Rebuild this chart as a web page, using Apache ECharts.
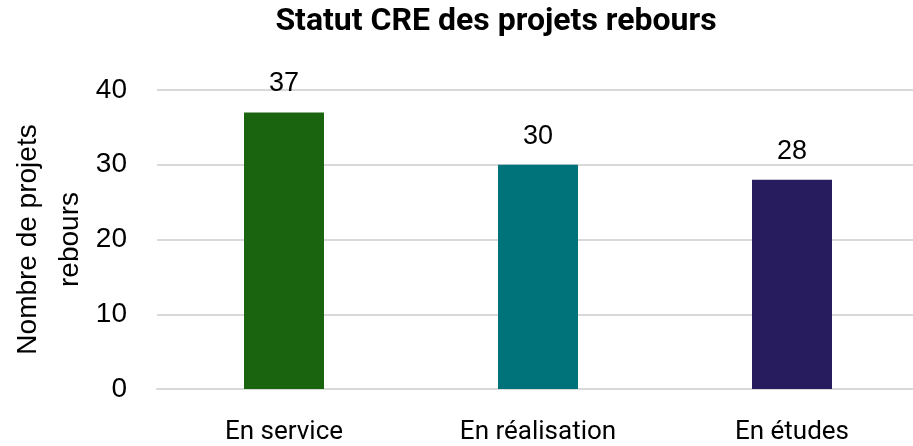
<!DOCTYPE html>
<html>
<head>
<meta charset="utf-8">
<script src="https://cdn.jsdelivr.net/npm/echarts@6/dist/echarts.min.js"></script>
<style>
  html, body { margin: 0; padding: 0; background: #fff; }
  #main { width: 913px; height: 446px; }
</style>
</head>
<body>
<div id="main"></div>
<script type="text/javascript">
    var categories = ['En service', 'En réalisation', 'En études'];
    var values = [37, 30, 28];
    var barColors = ['#1a6410', '#00737a', '#261c5e'];

    var chart = echarts.init(document.getElementById('main'));

    var option = {
        animation: false,
        title: {
            text: 'Statut CRE des projets rebours',
            left: 491,
            textAlign: 'center',
            top: 1,
            textStyle: { fontFamily: 'Roboto', fontWeight: 'bold', fontSize: 32, color: '#000' }
        },
        grid: { left: 157, width: 762, top: 90, bottom: 57, outerBoundsMode: 'none' },
        xAxis: {
            type: 'category',
            data: categories,
            axisLine: { show: true, lineStyle: { color: '#d9d9d9', width: 2 } },
            axisTick: { show: false },
            axisLabel: { fontFamily: 'Roboto', fontSize: 26, color: '#000', margin: 30 }
        },
        yAxis: {
            type: 'value',
            min: 0,
            max: 40,
            interval: 10,
            name: 'Nombre de projets\nrebours',
            nameLocation: 'middle',
            nameGap: 66,
            nameMoveOverlap: false,
            nameRotate: 90,
            nameTextStyle: { fontFamily: 'Liberation Sans', fontSize: 28, color: '#000', lineHeight: 42 },
            axisLine: { show: false },
            axisTick: { show: false },
            axisLabel: { fontFamily: 'Liberation Sans', fontSize: 28, color: '#000', margin: 30 },
            splitLine: { lineStyle: { color: '#d9d9d9', width: 2 } }
        },
        series: [{
            type: 'bar',
            barWidth: 80,
            data: values.map(function (v, i) {
                return { value: v, itemStyle: { color: barColors[i] } };
            }),
            label: {
                show: true,
                position: 'top',
                distance: 15,
                fontFamily: 'Liberation Sans',
                fontSize: 27,
                color: '#000'
            }
        }]
    };

    chart.setOption(option);
</script>
</body>
</html>
